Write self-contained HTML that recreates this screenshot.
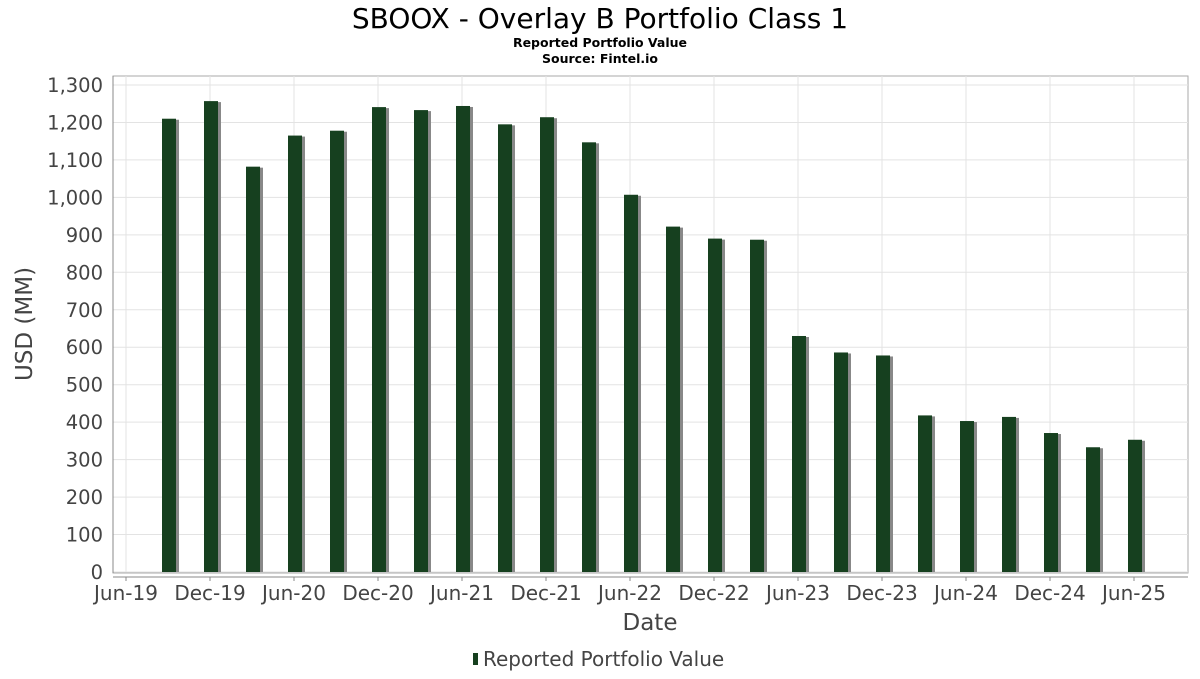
<!DOCTYPE html>
<html><head><meta charset="utf-8"><style>
body{margin:0;background:#fff;font-family:"DejaVu Sans","Liberation Sans",sans-serif;}
</style></head><body>
<svg width="1200" height="675" xmlns="http://www.w3.org/2000/svg" style="font-family:'DejaVu Sans','Liberation Sans',sans-serif">
<text x="600" y="28" text-anchor="middle" font-size="28" fill="#000">SBOOX - Overlay B Portfolio Class 1</text>
<text x="600" y="47" text-anchor="middle" font-size="12.5" font-weight="bold">Reported Portfolio Value</text>
<text x="600" y="63" text-anchor="middle" font-size="12.5" font-weight="bold">Source: Fintel.io</text>
<rect x="113" y="76" width="1075" height="497" fill="#fff" stroke="#aaa"/>
<g id="grid"></g><g id="bars"></g><g id="yt"></g><g id="xt"></g>
<line x1="113" y1="76" x2="113" y2="573" stroke="#888"/>
<line x1="113" y1="577" x2="1188" y2="577" stroke="#888"/>
<text x="32" y="324" text-anchor="middle" font-size="23" fill="#444" transform="rotate(-90 32 324)">USD (MM)</text>
<text x="650" y="630" text-anchor="middle" font-size="23" fill="#444">Date</text>
<rect x="473" y="653" width="5" height="12" fill="#16401f"/>
<text x="483" y="666" font-size="20" fill="#444">Reported Portfolio Value</text>
</svg>
<script>
const values=[1210,1257,1082,1165,1178,1241,1233,1244,1195,1214,1147,1007,922,890,887,630,586,578,418,403,414,371,333,353];
const yTicks=[0,100,200,300,400,500,600,700,800,900,1000,1100,1200,1300];
const xLabels=["Jun-19","Dec-19","Jun-20","Dec-20","Jun-21","Dec-21","Jun-22","Dec-22","Jun-23","Dec-23","Jun-24","Dec-24","Jun-25"];
const NS="http://www.w3.org/2000/svg";
const y=v=>572-v*(487/1300);
const xq=i=>126+42*i;
function mk(t,a,p){const e=document.createElementNS(NS,t);for(const k in a)e.setAttribute(k,a[k]);document.getElementById(p).appendChild(e);return e;}
yTicks.forEach((v,i)=>{
 const g=mk('line',{x1:113,x2:1188,y1:y(v),y2:y(v),stroke:'#e3e3e3'},'grid');
 
 
 const t=mk('text',{x:103,y:y(v)+7,'text-anchor':'end','font-size':19.5,fill:'#444'},'yt');
 t.textContent=v.toLocaleString('en-US');
 
 
});
xLabels.forEach((l,i)=>{
 const x=xq(i*2);
 const g=mk('line',{x1:x,x2:x,y1:76,y2:572,stroke:'#e3e3e3'},'grid');
 
 
 const tk=mk('line',{x1:x,x2:x,y1:577,y2:581,stroke:'#888'},'xt');
 
 
 const t=mk('text',{x:x,y:600,'text-anchor':'middle','font-size':20,fill:'#444'},'xt');
 t.textContent=l;
 
 
});
values.forEach((v,i)=>{
 const c=xq(i+1)+1;
 const s=mk('rect',{x:c-4,y:y(v)+1,width:14,height:572-y(v)-1,fill:'#888'},'bars');
 
 
 const b=mk('rect',{x:c-7,y:y(v),width:14,height:572-y(v),fill:'#16401f'},'bars');
 
 
});
</script>
</body></html>
